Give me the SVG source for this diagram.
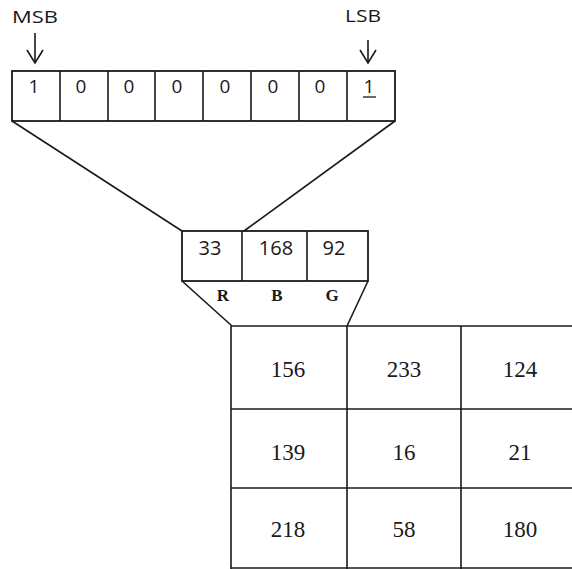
<svg xmlns="http://www.w3.org/2000/svg" width="572" height="569" viewBox="0 0 572 569">
<style>
.ln{stroke:#1a1a1a;stroke-width:1.6;fill:none}
.bx{stroke:#1a1a1a;stroke-width:1.8;fill:#fff}
.sans{font-family:"Open Sans","Liberation Sans",sans-serif;fill:#1a1a1a}
.bit{font-size:19px;text-anchor:middle}
.lbl{font-size:17px}
.rgb{font-size:20px;text-anchor:middle}
.ch{font-family:"Liberation Serif",serif;font-weight:bold;font-size:17px;text-anchor:middle;fill:#1a1a1a}
.num{font-family:"Liberation Serif",serif;font-size:23px;text-anchor:middle;fill:#1a1a1a}
</style>
<rect width="572" height="569" fill="#fff"/>
<g id="connectors">
<line class="ln" x1="12" y1="121" x2="182" y2="231"/>
<line class="ln" x1="395" y1="121" x2="244" y2="231"/>
<line class="ln" x1="182" y1="281" x2="232" y2="326"/>
<line class="ln" x1="368" y1="281" x2="347" y2="326"/>
<line class="ln" x1="35" y1="33" x2="35" y2="63"/>
<polyline class="ln" points="27,50 35,63 43,50"/>
<line class="ln" x1="368" y1="40" x2="368" y2="63"/>
<polyline class="ln" points="360,50 368,63 376,50"/>
</g>
<g id="msb"><text class="sans lbl" x="12" y="23" textLength="46" lengthAdjust="spacingAndGlyphs">MSB</text></g>
<g id="lsb"><text class="sans lbl" x="345" y="22" textLength="36" lengthAdjust="spacingAndGlyphs">LSB</text></g>
<g id="bits">
<rect class="bx" x="12" y="71" width="383" height="50"/>
<line class="ln" x1="60" y1="71" x2="60" y2="121"/>
<line class="ln" x1="108" y1="71" x2="108" y2="121"/>
<line class="ln" x1="155" y1="71" x2="155" y2="121"/>
<line class="ln" x1="203" y1="71" x2="203" y2="121"/>
<line class="ln" x1="251" y1="71" x2="251" y2="121"/>
<line class="ln" x1="299" y1="71" x2="299" y2="121"/>
<line class="ln" x1="347" y1="71" x2="347" y2="121"/>
<text class="sans bit" x="34" y="93">1</text>
<text class="sans bit" x="81" y="93">0</text>
<text class="sans bit" x="129" y="93">0</text>
<text class="sans bit" x="177" y="93">0</text>
<text class="sans bit" x="225" y="93">0</text>
<text class="sans bit" x="273" y="93">0</text>
<text class="sans bit" x="320" y="93">0</text>
<text class="sans bit" x="369" y="93">1</text>
<line x1="363" y1="97" x2="376" y2="97" stroke="#1a1a1a" stroke-width="1.3"/>
</g>
<g id="rgb">
<rect class="bx" x="182" y="231" width="186" height="50"/>
<line class="ln" x1="242" y1="231" x2="242" y2="281"/>
<line class="ln" x1="307" y1="231" x2="307" y2="281"/>
<text class="sans rgb" x="210" y="255">33</text>
<text class="sans rgb" x="276" y="255">168</text>
<text class="sans rgb" x="334" y="255">92</text>
<text class="ch" x="223" y="301">R</text>
<text class="ch" x="277" y="301">B</text>
<text class="ch" x="332" y="301">G</text>
</g>
<g id="grid">
<line class="ln" x1="231" y1="326" x2="572" y2="326"/>
<line class="ln" x1="231" y1="409" x2="572" y2="409"/>
<line class="ln" x1="231" y1="488" x2="572" y2="488"/>
<line class="ln" x1="231" y1="568" x2="572" y2="568"/>
<line class="ln" x1="231" y1="326" x2="231" y2="569"/>
<line class="ln" x1="347" y1="326" x2="347" y2="569"/>
<line class="ln" x1="461" y1="326" x2="461" y2="569"/>
<text class="num" x="288" y="377">156</text>
<text class="num" x="404" y="377">233</text>
<text class="num" x="520" y="377">124</text>
<text class="num" x="288" y="460">139</text>
<text class="num" x="404" y="460">16</text>
<text class="num" x="520" y="460">21</text>
<text class="num" x="288" y="537">218</text>
<text class="num" x="404" y="537">58</text>
<text class="num" x="520" y="537">180</text>
</g>
</svg>
